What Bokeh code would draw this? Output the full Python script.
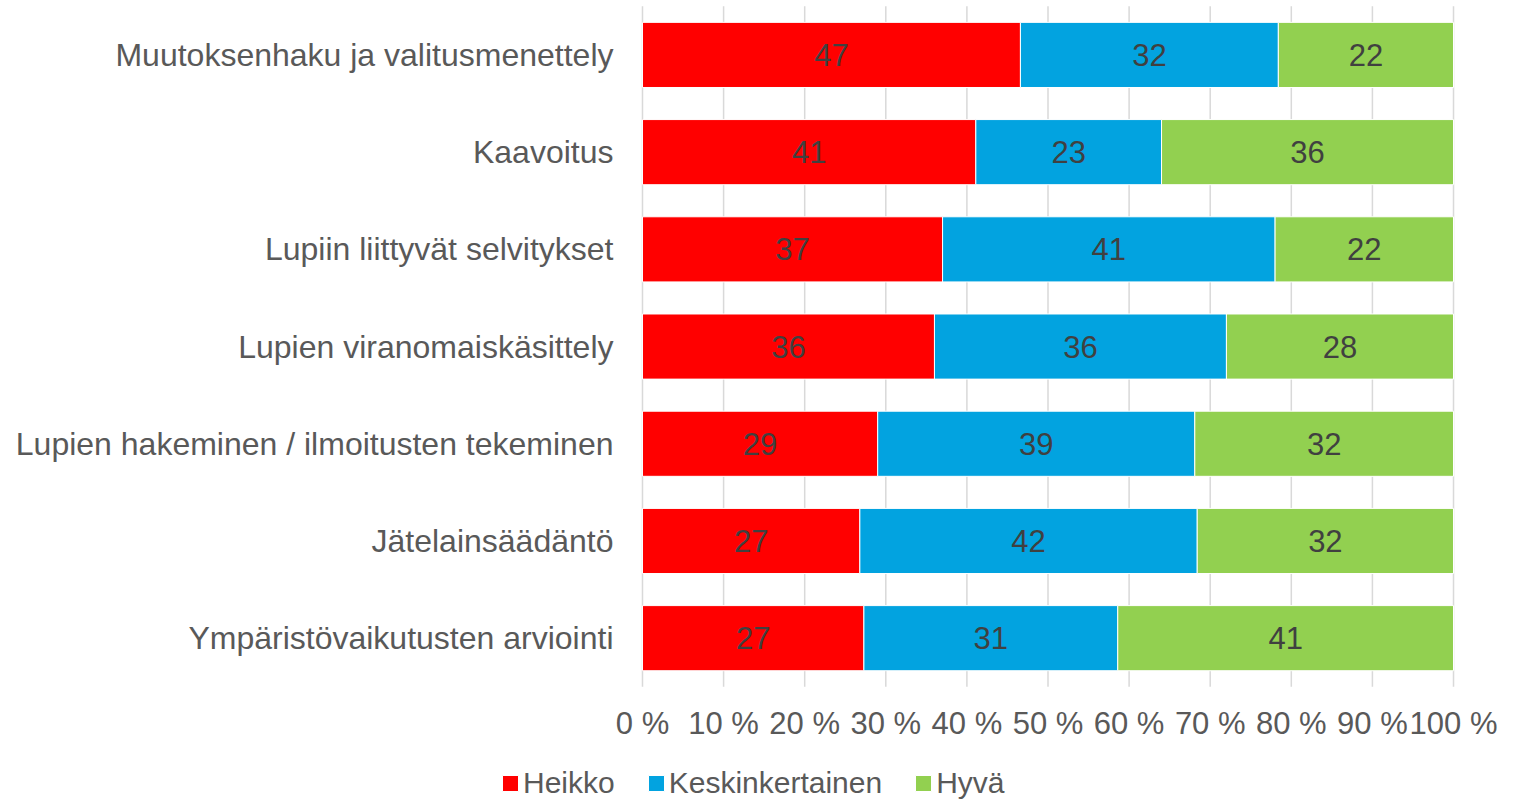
from bokeh.plotting import figure
from bokeh.models import (ColumnDataSource, Range1d, FixedTicker,
                          PrintfTickFormatter, Legend, LegendItem)
from bokeh.core.properties import value
from bokeh.embed import file_html
from bokeh.resources import INLINE

categories = [
    "Muutoksenhaku ja valitusmenettely",
    "Kaavoitus",
    "Lupiin liittyvät selvitykset",
    "Lupien viranomaiskäsittely",
    "Lupien hakeminen / ilmoitusten tekeminen",
    "Jätelainsäädäntö",
    "Ympäristövaikutusten arviointi",
]
series_names = ["Heikko", "Keskinkertainen", "Hyvä"]
heikko = [46.6, 41.1, 37.0, 36.0, 29.0, 26.8, 27.3]
keskinkertainen = [31.8, 22.9, 41.0, 36.0, 39.1, 41.6, 31.3]
hyva = [21.6, 36.0, 22.0, 28.0, 31.9, 31.6, 41.4]
colors = ["#FF0000", "#02A3E0", "#92D050"]
x_ticks = [0, 10, 20, 30, 40, 50, 60, 70, 80, 90, 100]

FONT = "Liberation Sans"
TXT = "#595959"

pos = list(range(len(categories)))          # category index, 0 at top
source = ColumnDataSource(dict(pos=pos, Heikko=heikko,
                               Keskinkertainen=keskinkertainen, Hyva=hyva))

# one frame covering the whole canvas; axes fixed inside it
p = figure(width=1526, height=800, output_backend="svg", toolbar_location=None,
           x_range=Range1d(-79.16, 109.0), y_range=Range1d(7.67, -0.56),
           min_border_left=0, min_border_right=0, min_border_top=0,
           min_border_bottom=0)
p.outline_line_color = None
p.xgrid.grid_line_color = None
p.ygrid.grid_line_color = None

# vertical grid lines over the category band
n = len(categories)
p.segment(x0=x_ticks, x1=x_ticks, y0=[-0.5] * len(x_ticks), y1=[n - 0.5] * len(x_ticks),
          line_color="#D9D9D9", line_width=1.5)

renderers = p.hbar_stack(["Heikko", "Keskinkertainen", "Hyva"], y="pos", height=0.67,
                         color=colors, line_color="white", line_width=1, source=source)

# data labels at segment centres
lx, ly, lt = [], [], []
for i in pos:
    left = 0.0
    for vals in (heikko, keskinkertainen, hyva):
        v = vals[i]
        lx.append(left + v / 2)
        ly.append(i)
        lt.append(str(int(round(v))))
        left += v
lsrc = ColumnDataSource(dict(x=lx, y=ly, t=lt))
p.text(x="x", y="y", text="t", source=lsrc, text_align="center", text_baseline="middle",
       text_font=value(FONT), text_font_size="31px", text_color="#404040")

# x axis
p.xaxis.fixed_location = n - 0.5
p.xaxis.ticker = FixedTicker(ticks=x_ticks)
p.xaxis.formatter = PrintfTickFormatter(format="%d %%")
p.xaxis.axis_line_color = None
p.xaxis.major_tick_line_color = None
p.xaxis.minor_tick_line_color = None
p.xaxis.major_tick_out = 0
p.xaxis.major_label_standoff = 19
p.xaxis.major_label_text_font = FONT
p.xaxis.major_label_text_font_size = "31px"
p.xaxis.major_label_text_color = TXT

# y axis (category names)
p.yaxis.fixed_location = 0
p.yaxis.ticker = FixedTicker(ticks=pos)
p.yaxis.major_label_overrides = {i: c for i, c in zip(pos, categories)}
p.yaxis.axis_line_color = None
p.yaxis.major_tick_line_color = None
p.yaxis.minor_tick_line_color = None
p.yaxis.major_tick_out = 0
p.yaxis.major_label_standoff = 29
p.yaxis.major_label_text_font = FONT
p.yaxis.major_label_text_font_size = "32px"
p.yaxis.major_label_text_color = TXT

legend = Legend(items=[LegendItem(label=nm, renderers=[r]) for nm, r in zip(series_names, renderers)],
                location=(500, 0), orientation="horizontal",
                glyph_width=20, glyph_height=20, label_standoff=3, spacing=31,
                padding=0, margin=0, label_height=34,
                label_text_font=FONT, label_text_font_size="30px", label_text_color=TXT,
                border_line_color=None, background_fill_alpha=0)
p.add_layout(legend, "center")

open("out.html", "w").write(file_html(p, INLINE))
